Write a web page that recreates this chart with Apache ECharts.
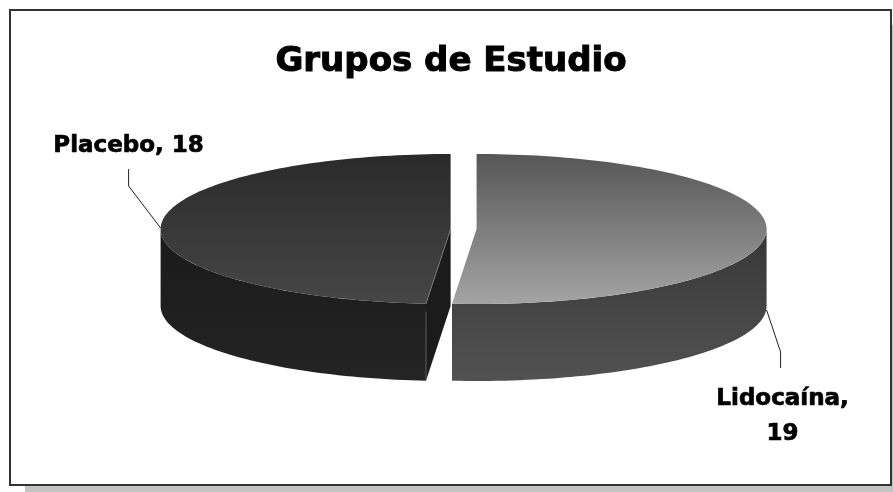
<!DOCTYPE html>
<html>
<head>
<meta charset="utf-8">
<style>html,body{margin:0;padding:0;background:#fff}#chart{width:893px;height:492px}</style>
<script src="https://cdn.jsdelivr.net/npm/echarts@6/dist/echarts.min.js"></script>
</head>
<body>
<div id="chart"></div>
<script>
// Study groups and their patient counts
const groupNames = ['Lidocaína', 'Placebo'];
const groupCounts = [19, 18];
const chartTitle = 'Grupos de Estudio';

// Tilted-disc geometry
const disc = { cx: 463.6, cy: 229, rx: 290, ry: 75, depth: 77, explode: 13 };
const FONT = '"DejaVu Sans"';

const vertical = (a, b) => ({
  type: 'linear', x: 0, y: 0, x2: 0, y2: 1,
  colorStops: [{ offset: 0, color: a }, { offset: 1, color: b }]
});
const topFills = [vertical('#565656', '#a4a4a4'), vertical('#2a2a2a', '#464646')];
const wallFills = [vertical('#363636', '#525252'), vertical('#1a1a1a', '#242424')];

// Leader line bends and label centres, relative to the point where each line meets the rim
const labelLayout = [
  { side: 1, rimY: 81, bend: [[14, 42], [14, 58]], text: [16, 107], sep: ',\n' },
  { side: -1, rimY: -1, bend: [[-32, -42], [-32, -59]], text: [-32, -82], sep: ', ' }
];

const total = groupCounts.reduce((a, b) => a + b, 0);
const toPoint = (c, deg, dy) => {
  const r = deg * Math.PI / 180;
  return [c[0] + disc.rx * Math.sin(r), c[1] - disc.ry * Math.cos(r) + (dy || 0)];
};
const arc = (c, from, to, dy) => {
  const pts = [];
  const steps = Math.max(2, Math.ceil(Math.abs(to - from) / 1.5));
  for (let i = 0; i <= steps; i++) pts.push(toPoint(c, from + (to - from) * i / steps, dy));
  return pts;
};

function renderSlice(params, api) {
  const i = params.dataIndex;
  const value = api.value(0);
  let start = 0;
  for (let k = 0; k < i; k++) start += groupCounts[k] / total * 360;
  const end = start + value / total * 360;
  const mid = (start + end) / 2 * Math.PI / 180;
  const c = [disc.cx + disc.explode * Math.sin(mid), disc.cy];
  const children = [];

  // Visible outer wall: the front half of the rim only
  const wFrom = Math.max(start, 90), wTo = Math.min(end, 270);
  const wall = arc(c, wFrom, wTo, 0).concat(arc(c, wTo, wFrom, disc.depth));
  children.push({ type: 'polygon', shape: { points: wall }, style: { fill: wallFills[i] } });

  // Cut face of the wedge that turns toward the viewer
  const faceTurned = start > 90 && start < 270;
  const apex = toPoint(c, start);
  if (faceTurned) {
    children.push({
      type: 'polygon',
      shape: { points: [c, apex, [apex[0], apex[1] + disc.depth], [c[0], c[1] + disc.depth]] },
      style: { fill: '#1b1b1b' }
    });
    children.push({
      type: 'polyline',
      shape: { points: [[apex[0], apex[1] + 8], [apex[0], apex[1] + disc.depth]] },
      style: { stroke: '#8a8a8a', lineWidth: 0.6, fill: 'none' }
    });
  }

  // Top surface
  children.push({ type: 'polygon', shape: { points: [c].concat(arc(c, start, end, 0)) }, style: { fill: topFills[i] } });
  if (faceTurned) {
    children.push({
      type: 'polyline',
      shape: { points: [c, apex] },
      style: { stroke: '#8a8a8a', lineWidth: 0.6, fill: 'none' }
    });
  }

  // Leader line and label
  const lay = labelLayout[i];
  const rim = [c[0] + lay.side * disc.rx, c[1] + lay.rimY];
  const leader = [rim].concat(lay.bend.map(b => [rim[0] + b[0], rim[1] + b[1]]));
  children.push({ type: 'polyline', shape: { points: leader }, style: { stroke: '#222', lineWidth: 1, fill: 'none' } });
  children.push({
    type: 'text',
    style: {
      x: rim[0] + lay.text[0], y: rim[1] + lay.text[1],
      text: groupNames[i] + lay.sep + value,
      fill: '#000', stroke: '#000', lineWidth: 0.7,
      font: 'bold 23px ' + FONT, align: 'center', verticalAlign: 'middle', lineHeight: 35
    }
  });
  return { type: 'group', children };
}

const chart = echarts.init(document.getElementById('chart'), null, { renderer: 'canvas' });
chart.setOption({
  animation: false,
  backgroundColor: '#fff',
  title: {
    text: chartTitle, left: 451, top: 62, padding: 0, textAlign: 'center', textVerticalAlign: 'middle',
    textStyle: {
      fontFamily: FONT, fontWeight: 'bold', fontSize: 34, color: '#000',
      textBorderColor: '#000', textBorderWidth: 1
    }
  },
  graphic: [
    { type: 'rect', z: -3, shape: { x: 25, y: 25, width: 868, height: 467 }, style: { fill: '#c4c4c4' } },
    { type: 'rect', z: -2, shape: { x: 10, y: 10, width: 881, height: 475 }, style: { fill: '#fff', stroke: '#333', lineWidth: 2 } }
  ],
  series: [{
    type: 'custom',
    coordinateSystem: 'none',
    renderItem: renderSlice,
    data: groupCounts,
    silent: true
  }]
});
</script>
</body>
</html>
